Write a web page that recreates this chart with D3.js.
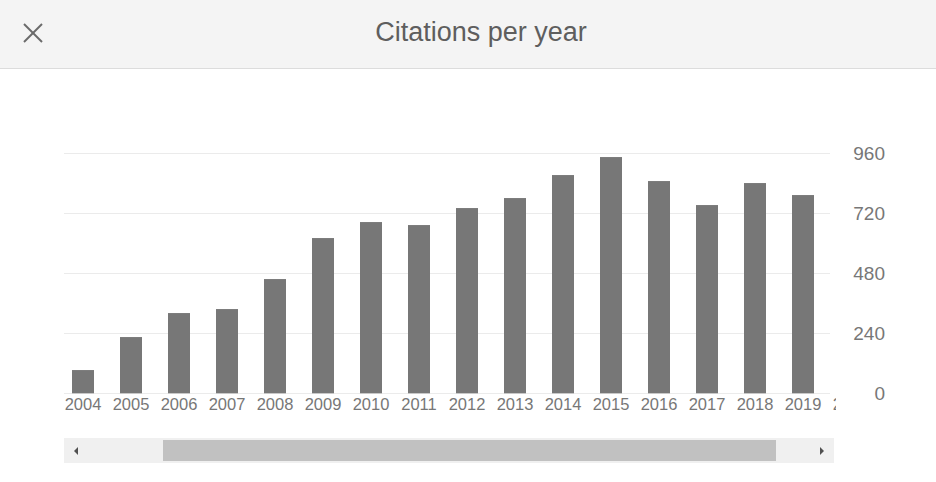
<!DOCTYPE html>
<html><head><meta charset="utf-8">
<script src="https://cdn.jsdelivr.net/npm/d3@7"></script>
<style>
html,body{margin:0;padding:0;background:#fff;}
svg{display:block;font-family:Arial,"Liberation Sans",sans-serif;}
</style></head>
<body>
<script>
const years = ["2004","2005","2006","2007","2008","2009","2010","2011","2012","2013","2014","2015","2016","2017","2018","2019"];
const citations = [93,225,321,337,457,621,685,673,741,781,873,945,849,753,841,793];
const hiddenYears = ["2020"];
const yTicks = [0,240,480,720,960];
const title = "Citations per year";

const W = 936, H = 482;
const svg = d3.select("body").append("svg").attr("width", W).attr("height", H);

// header
svg.append("rect").attr("x",0).attr("y",0).attr("width",W).attr("height",68).attr("fill","#f4f4f4");
svg.append("line").attr("x1",0).attr("x2",W).attr("y1",68.5).attr("y2",68.5).attr("stroke","#dcdcdc");
svg.append("text").attr("x",481).attr("y",41).attr("text-anchor","middle")
  .attr("font-size",27).attr("fill","#5e5e5e").text(title);
const xi = svg.append("g").attr("stroke","#6a6a6a").attr("stroke-width",2);
xi.append("line").attr("x1",24).attr("y1",24).attr("x2",42).attr("y2",42);
xi.append("line").attr("x1",42).attr("y1",24).attr("x2",24).attr("y2",42);

// scales
const allYears = years.concat(hiddenYears);
const x = d3.scaleBand().domain(allYears).range([59, 59 + 48*allYears.length])
  .paddingInner(26/48).paddingOuter(13/48);
const y = d3.scaleLinear().domain([0,960]).range([393.3,153.3]);

const plotL = 64, plotR = 830;

const defs = svg.append("defs");
defs.append("clipPath").attr("id","plotclip").append("rect")
  .attr("x",plotL).attr("y",100).attr("width",plotR-plotL).attr("height",300);
defs.append("clipPath").attr("id","labelclip").append("rect")
  .attr("x",plotL).attr("y",394).attr("width",836-plotL).attr("height",25);

// gridlines
svg.append("g").selectAll("line").data(yTicks).join("line")
  .attr("x1",plotL).attr("x2",plotR)
  .attr("y1",d=>Math.round(y(d))+0.5).attr("y2",d=>Math.round(y(d))+0.5)
  .attr("stroke","#ebebeb").attr("stroke-width",1);

// bars
svg.append("g").attr("clip-path","url(#plotclip)").selectAll("rect").data(years).join("rect")
  .attr("x",d=>x(d)).attr("width",x.bandwidth())
  .attr("y",(d,i)=>y(citations[i])).attr("height",(d,i)=>y(0)-y(citations[i]))
  .attr("fill","#777777");

// x axis labels
const xAxis = d3.axisBottom(x).tickSize(0).tickPadding(0);
const gxWrap = svg.append("g").attr("clip-path","url(#labelclip)");
const gx = gxWrap.append("g").attr("transform","translate(0,398)").call(xAxis);
gx.select(".domain").remove();
gx.attr("font-size",null).attr("font-family",null);
gx.selectAll("text").attr("font-size",16.5).attr("fill","#777").attr("dy","0.71em");

// y axis labels
const yAxis = d3.axisRight(y).tickValues(yTicks).tickSize(0).tickPadding(0);
const gy = svg.append("g").attr("transform","translate(885,0)").call(yAxis);
gy.select(".domain").remove();
gy.attr("font-size",null).attr("font-family",null);
gy.selectAll("text").attr("text-anchor","end").attr("font-size",19).attr("fill","#777").attr("dy","0.35em");

// scrollbar
svg.append("rect").attr("x",64).attr("y",438).attr("width",770).attr("height",25).attr("fill","#f0f0f0");
svg.append("rect").attr("x",163).attr("y",440).attr("width",613).attr("height",21).attr("fill","#c1c1c1");
svg.append("path").attr("d","M74,451 L78,447 L78,455 Z").attr("fill","#505050");
svg.append("path").attr("d","M824,451 L820,447 L820,455 Z").attr("fill","#505050");
</script>
</body></html>
